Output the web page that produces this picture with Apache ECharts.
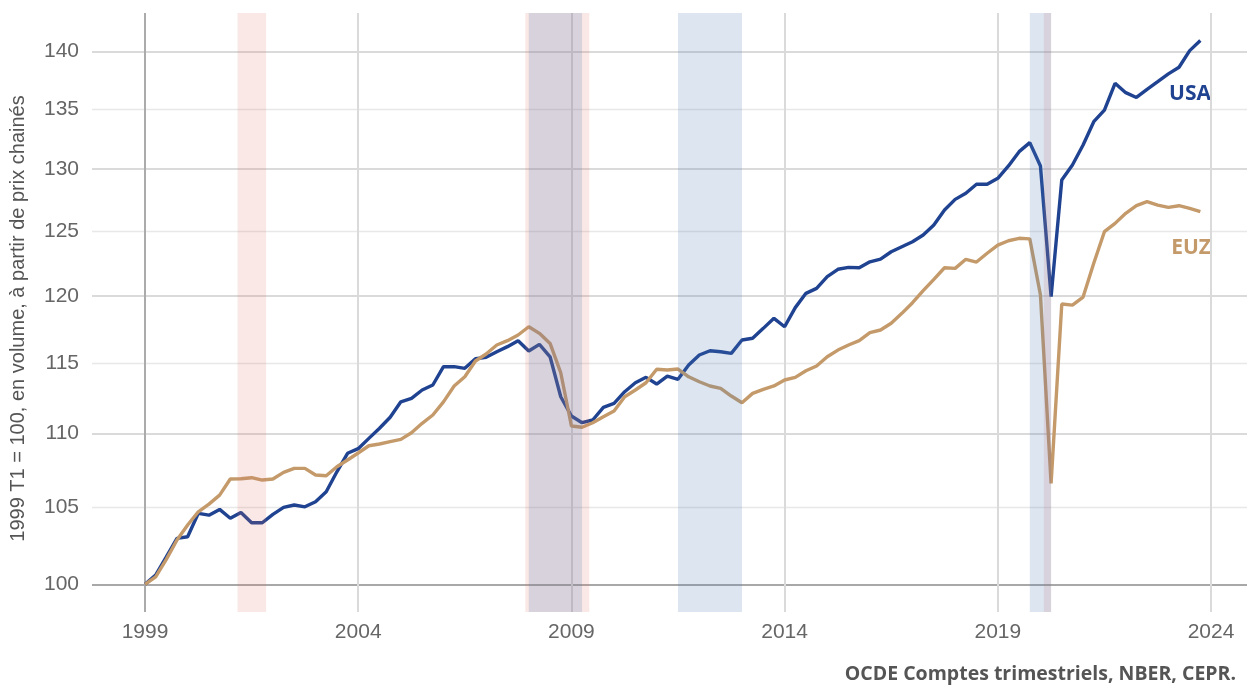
<!DOCTYPE html>
<html>
<head>
<meta charset="utf-8">
<script src="https://cdn.jsdelivr.net/npm/echarts@6/dist/echarts.min.js"></script>
<style>
  html, body { margin: 0; padding: 0; background: #fff; }
  #chart { width: 1247px; height: 685px; }
</style>
</head>
<body>
<div id="chart"></div>
<script>
// ---- Data (quarterly, first quarter = 1999 T1) ----
const startYear = 1999;
const usa = [
  100.00, 100.59, 101.76, 102.95, 103.05, 104.59, 104.47, 104.85, 104.26, 104.65,
  103.97, 103.97, 104.52, 104.98, 105.14, 105.02, 105.36, 106.02, 107.37, 108.63,
  108.95, 109.66, 110.36, 111.13, 112.22, 112.47, 113.06, 113.42, 114.74, 114.74,
  114.62, 115.32, 115.42, 115.83, 116.20, 116.64, 115.88, 116.37, 115.46, 112.58,
  111.22, 110.75, 110.94, 111.83, 112.11, 112.94, 113.58, 113.97, 113.49, 114.06,
  113.83, 114.86, 115.59, 115.90, 115.83, 115.71, 116.69, 116.82, 117.55, 118.30,
  117.67, 119.10, 120.18, 120.56, 121.45, 122.02, 122.17, 122.14, 122.60, 122.81,
  123.38, 123.77, 124.16, 124.69, 125.48, 126.67, 127.53, 128.02, 128.75, 128.75,
  129.24, 130.25, 131.43, 132.18, 130.24, 119.93, 129.10, 130.33, 131.99, 133.94,
  134.93, 137.23, 136.42, 136.01, 136.71, 137.37, 138.05, 138.63, 140.09, 140.98
];
const euz = [
  100.00, 100.48, 101.59, 102.84, 103.82, 104.69, 105.20, 105.80, 106.88, 106.90,
  106.97, 106.81, 106.88, 107.33, 107.60, 107.60, 107.15, 107.10, 107.71, 108.17,
  108.65, 109.15, 109.27, 109.43, 109.59, 110.05, 110.71, 111.29, 112.22, 113.35,
  114.01, 115.15, 115.66, 116.32, 116.64, 117.06, 117.67, 117.18, 116.44, 114.30,
  110.52, 110.43, 110.75, 111.17, 111.57, 112.58, 113.06, 113.58, 114.55, 114.50,
  114.57, 114.01, 113.65, 113.35, 113.18, 112.63, 112.16, 112.82, 113.11, 113.35,
  113.78, 113.97, 114.45, 114.79, 115.46, 115.95, 116.32, 116.64, 117.23, 117.43,
  117.93, 118.67, 119.47, 120.38, 121.25, 122.14, 122.09, 122.79, 122.58, 123.26,
  123.90, 124.24, 124.43, 124.39, 120.05, 106.59, 119.37, 119.29, 119.90, 122.48,
  124.95, 125.61, 126.41, 127.02, 127.34, 127.07, 126.89, 127.02, 126.81, 126.54
];
// Recession periods (decimal years): NBER (USA), CEPR (euro area)
const nberStart = [2001.17, 2007.92, 2020.08];
const nberEnd   = [2001.84, 2009.42, 2020.25];
const ceprStart = [2008.00, 2011.50, 2019.75];
const ceprEnd   = [2009.25, 2013.00, 2020.25];
// Tick labels
const xTicks = [1999, 2004, 2009, 2014, 2019, 2024];
const yMajorTicks = [100, 110, 120, 130, 140];
const yMinorTicks = [105, 115, 125, 135];

const yName = '1999 T1 = 100, en volume, à partir de prix chainés';
const sourceText = 'OCDE Comptes trimestriels, NBER, CEPR.';

// ---- Build chart ----
const toPairs = arr => arr.map((v, i) => [startYear + i / 4, v]);
const toBands = (s, e) => s.map((v, i) => [v, e[i], 100]);

const Y_MIN = 98.27, Y_MAX = 143.46;
const tickFont = { fontFamily: 'Liberation Sans, Arial, sans-serif', fontSize: 21, color: '#666666' };

function bandRenderer(color) {
  return function (params, api) {
    const p0 = api.coord([api.value(0), 100]);
    const p1 = api.coord([api.value(1), 100]);
    const cs = params.coordSys;
    return {
      type: 'rect',
      shape: { x: p0[0], y: cs.y, width: p1[0] - p0[0], height: cs.height },
      style: { fill: color }
    };
  };
}

const chart = echarts.init(document.getElementById('chart'), null, { renderer: 'canvas' });
chart.setOption({
  animation: false,
  backgroundColor: '#ffffff',
  grid: { left: 92, right: 0, top: 13, bottom: 73, containLabel: false },
  xAxis: {
    type: 'value',
    min: 1997.757,
    max: 2024.844,
    axisLine: { show: false },
    axisTick: { show: false, customValues: xTicks },
    axisLabel: Object.assign({ customValues: xTicks, margin: 10, formatter: v => String(v) }, tickFont),
    splitLine: { show: true, lineStyle: { color: ['#ABABAB', '#DADADA', '#DADADA', '#DADADA', '#DADADA', '#DADADA'], width: 2 } }
  },
  yAxis: [
    {
      type: 'log',
      logBase: 10,
      min: Y_MIN,
      max: Y_MAX,
      position: 'left',
      axisLine: { show: false },
      axisTick: { show: false, customValues: yMajorTicks },
      axisLabel: Object.assign({ customValues: yMajorTicks, margin: 13, formatter: v => String(Math.round(v)) }, tickFont),
      splitLine: { show: true, lineStyle: { color: ['#A8A8A8', '#DADADA', '#DADADA', '#DADADA', '#DADADA'], width: 2 } },
      name: yName,
      nameLocation: 'middle',
      nameGap: 64,
      nameMoveOverlap: false,
      nameTextStyle: { fontFamily: 'Liberation Sans, Arial, sans-serif', fontSize: 20, color: '#555555', padding: [0, 12, 0, 0] }
    },
    {
      type: 'log',
      logBase: 10,
      min: Y_MIN,
      max: Y_MAX,
      position: 'left',
      offset: 0,
      axisLine: { show: false },
      axisTick: { show: false, customValues: yMinorTicks },
      axisLabel: Object.assign({ customValues: yMinorTicks, margin: 13, formatter: v => String(Math.round(v)) }, tickFont),
      splitLine: { show: true, lineStyle: { color: '#E8E8E8', width: 1.3 } }
    }
  ],
  series: [
    {
      name: 'USA', type: 'line', data: toPairs(usa), yAxisIndex: 0,
      showSymbol: false, symbol: 'none', smooth: false,
      lineStyle: { color: '#1F4291', width: 3.4 }, z: 3
    },
    {
      name: 'EUZ', type: 'line', data: toPairs(euz), yAxisIndex: 0,
      showSymbol: false, symbol: 'none', smooth: false,
      lineStyle: { color: '#C49A6B', width: 3.4 }, z: 3
    },
    {
      name: 'NBER', type: 'custom', yAxisIndex: 0, data: toBands(nberStart, nberEnd),
      encode: { x: [0, 1], y: 2 }, renderItem: bandRenderer('rgba(220,110,95,0.16)'),
      silent: true, z: 5, clip: true
    },
    {
      name: 'CEPR', type: 'custom', yAxisIndex: 0, data: toBands(ceprStart, ceprEnd),
      encode: { x: [0, 1], y: 2 }, renderItem: bandRenderer('rgba(80,125,180,0.2)'),
      silent: true, z: 6, clip: true
    }
  ],
  graphic: [
    { type: 'text', x: 1211, y: 94, style: { text: 'USA', fill: '#1F4291', font: 'bold 21px "Open Sans", sans-serif', textAlign: 'right', textVerticalAlign: 'middle' } },
    { type: 'text', x: 1211, y: 248, style: { text: 'EUZ', fill: '#C49A6B', font: 'bold 21px "Open Sans", sans-serif', textAlign: 'right', textVerticalAlign: 'middle' } },
    { type: 'text', x: 1236, y: 674, style: { text: sourceText, fill: '#555555', font: 'bold 19.5px "Open Sans", sans-serif', textAlign: 'right', textVerticalAlign: 'middle' } }
  ]
});
</script>
</body>
</html>
